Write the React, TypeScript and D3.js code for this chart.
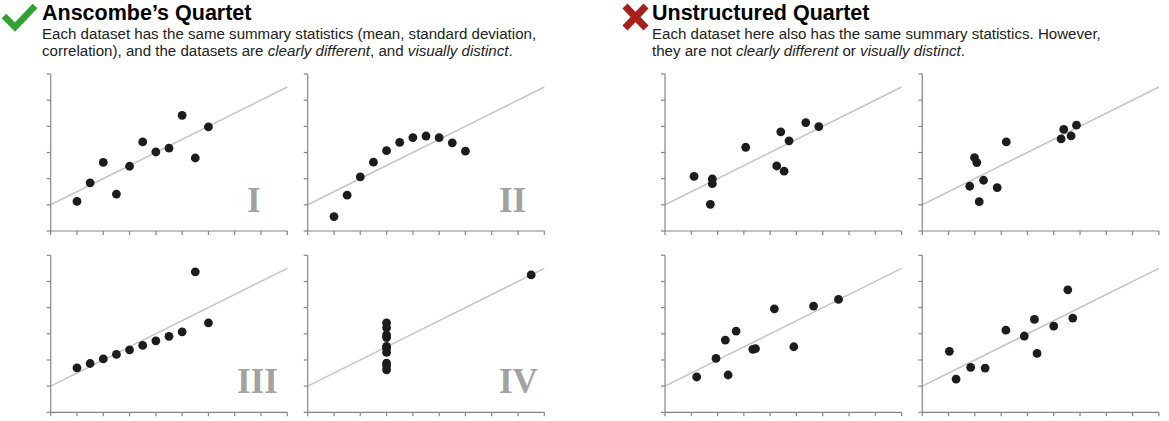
import React from "react";
import * as d3 from "d3";

const xTicks = [2, 4, 6, 8, 10, 12, 14, 16, 18, 20];
const yTicks = [2, 4, 6, 8, 10, 12, 14];

const anscombeX = [10, 8, 13, 9, 11, 14, 6, 4, 12, 7, 5];
const anscombeX4 = [8, 8, 8, 8, 8, 8, 8, 19, 8, 8, 8];
const anscombeY1 = [8.04, 6.95, 7.58, 8.81, 8.33, 9.96, 7.24, 4.26, 10.84, 4.82, 5.68];
const anscombeY2 = [9.14, 8.14, 8.74, 8.77, 9.26, 8.1, 6.13, 3.1, 9.13, 7.26, 4.74];
const anscombeY3 = [7.46, 6.77, 12.74, 7.11, 7.81, 8.84, 6.08, 5.39, 8.15, 6.42, 5.73];
const anscombeY4 = [6.58, 5.76, 7.71, 8.84, 8.47, 7.04, 5.25, 12.5, 5.56, 7.91, 6.89];

const unstructX1 = [4.21, 5.6, 5.6, 5.45, 8.14, 10.5, 11.06, 10.81, 11.44, 12.71, 13.7];
const unstructY1 = [6.18, 5.98, 5.62, 4.04, 8.4, 6.97, 6.57, 9.58, 8.89, 10.29, 9.98];
const unstructX2 = [5.61, 5.97, 6.15, 6.66, 6.33, 7.7, 8.39, 12.56, 12.76, 13.32, 13.73];
const unstructY2 = [5.42, 7.61, 7.23, 5.88, 4.24, 5.32, 8.81, 9.04, 9.76, 9.27, 10.09];
const unstructX3 = [4.41, 5.88, 6.59, 7.41, 6.8, 8.68, 8.88, 10.32, 11.8, 13.3, 15.2];
const unstructY3 = [4.7, 6.12, 7.52, 8.21, 4.85, 6.81, 6.86, 9.91, 7.01, 10.12, 10.63];
const unstructX4 = [4.06, 4.57, 5.68, 6.78, 8.36, 9.76, 10.53, 10.73, 12.0, 13.07, 13.45];
const unstructY4 = [6.66, 4.54, 5.44, 5.38, 8.28, 7.83, 9.1, 6.5, 8.59, 11.36, 9.2];

const fitIntercept = 3;
const fitSlope = 0.5;

type PanelProps = {
  left: number;
  top: number;
  xs: number[];
  ys: number[];
  label?: string;
  labelX?: number;
  labelY?: number;
};

const W = 236.6;
const H = 157;

function Panel({ left, top, xs, ys, label, labelX, labelY }: PanelProps) {
  const x = d3.scaleLinear().domain([2, 20]).range([left, left + W]);
  const y = d3.scaleLinear().domain([2, 14]).range([top + H, top]);
  const line = d3
    .line<number>()
    .x((d) => x(d))
    .y((d) => y(fitIntercept + fitSlope * d));
  const axisColor = "#858585";
  return (
    <g>
      <path d={line([2, 20]) || ""} stroke="#c6c6c6" strokeWidth={1.6} fill="none" />
      <line x1={x(2)} x2={x(20)} y1={y(2)} y2={y(2)} stroke={axisColor} strokeWidth={1.2} />
      <line x1={x(2)} x2={x(2)} y1={y(2)} y2={y(14)} stroke={axisColor} strokeWidth={1.2} />
      {xTicks.map((t) => (
        <line key={"x" + t} x1={x(t)} x2={x(t)} y1={y(2)} y2={y(2) + 4} stroke={axisColor} strokeWidth={1.2} />
      ))}
      {yTicks.map((t) => (
        <line key={"y" + t} x1={x(2) - 4} x2={x(2)} y1={y(t)} y2={y(t)} stroke={axisColor} strokeWidth={1.2} />
      ))}
      {xs.map((v, i) => (
        <circle key={i} cx={x(v)} cy={y(ys[i])} r={4.4} fill="#1c1c1c" />
      ))}
      {label && (
        <text
          x={labelX}
          y={labelY}
          fontFamily="'Liberation Serif', 'DejaVu Serif', serif"
          fontWeight="bold"
          fontSize={35}
          fill="#a2a2a2"
        >
          {label}
        </text>
      )}
    </g>
  );
}

export default function App() {
  const sans = "'Liberation Sans', Arial, Helvetica, sans-serif";
  const sub = 15.1;
  return (
    <svg width={1169} height={421} style={{ position: "absolute", left: 0, top: 0, background: "#fff" }}>
      <rect x={0} y={0} width={1169} height={421} fill="#fff" />
      {/* check mark */}
      <path d="M4,16 L15,27 L35,6" stroke="#33a033" strokeWidth={6.5} fill="none" strokeLinecap="butt" strokeLinejoin="miter" />
      {/* cross */}
      <path d="M625,6 L646,28 M646,6 L625,28" stroke="#a8201c" strokeWidth={7} fill="none" />

      <text x={42} y={19.5} fontFamily={sans} fontWeight="bold" fontSize={21.5} fill="#000">
        Anscombe’s Quartet
      </text>
      <text x={42} y={38.5} fontFamily={sans} fontSize={sub} fill="#222">
        Each dataset has the same summary statistics (mean, standard deviation,
      </text>
      <text x={42} y={55.5} fontFamily={sans} fontSize={sub} fill="#222">
        correlation), and the datasets are <tspan fontStyle="italic">clearly different</tspan>, and{" "}
        <tspan fontStyle="italic">visually distinct</tspan>.
      </text>

      <text x={652} y={19.5} fontFamily={sans} fontWeight="bold" fontSize={21.5} fill="#000">
        Unstructured Quartet
      </text>
      <text x={652} y={38.5} fontFamily={sans} fontSize={sub} fill="#222">
        Each dataset here also has the same summary statistics. However,
      </text>
      <text x={652} y={55.5} fontFamily={sans} fontSize={sub} fill="#222">
        they are not <tspan fontStyle="italic">clearly different</tspan> or{" "}
        <tspan fontStyle="italic">visually distinct</tspan>.
      </text>

      <Panel left={50.7} top={74} xs={anscombeX} ys={anscombeY1} label="I" labelX={247} labelY={212} />
      <Panel left={307.7} top={74} xs={anscombeX} ys={anscombeY2} label="II" labelX={499} labelY={212} />
      <Panel left={50.7} top={255.3} xs={anscombeX} ys={anscombeY3} label="III" labelX={237} labelY={393} />
      <Panel left={307.7} top={255.3} xs={anscombeX4} ys={anscombeY4} label="IV" labelX={499} labelY={393} />

      <Panel left={665} top={74} xs={unstructX1} ys={unstructY1} />
      <Panel left={922.3} top={74} xs={unstructX2} ys={unstructY2} />
      <Panel left={665} top={255.3} xs={unstructX3} ys={unstructY3} />
      <Panel left={922.3} top={255.3} xs={unstructX4} ys={unstructY4} />
    </svg>
  );
}
